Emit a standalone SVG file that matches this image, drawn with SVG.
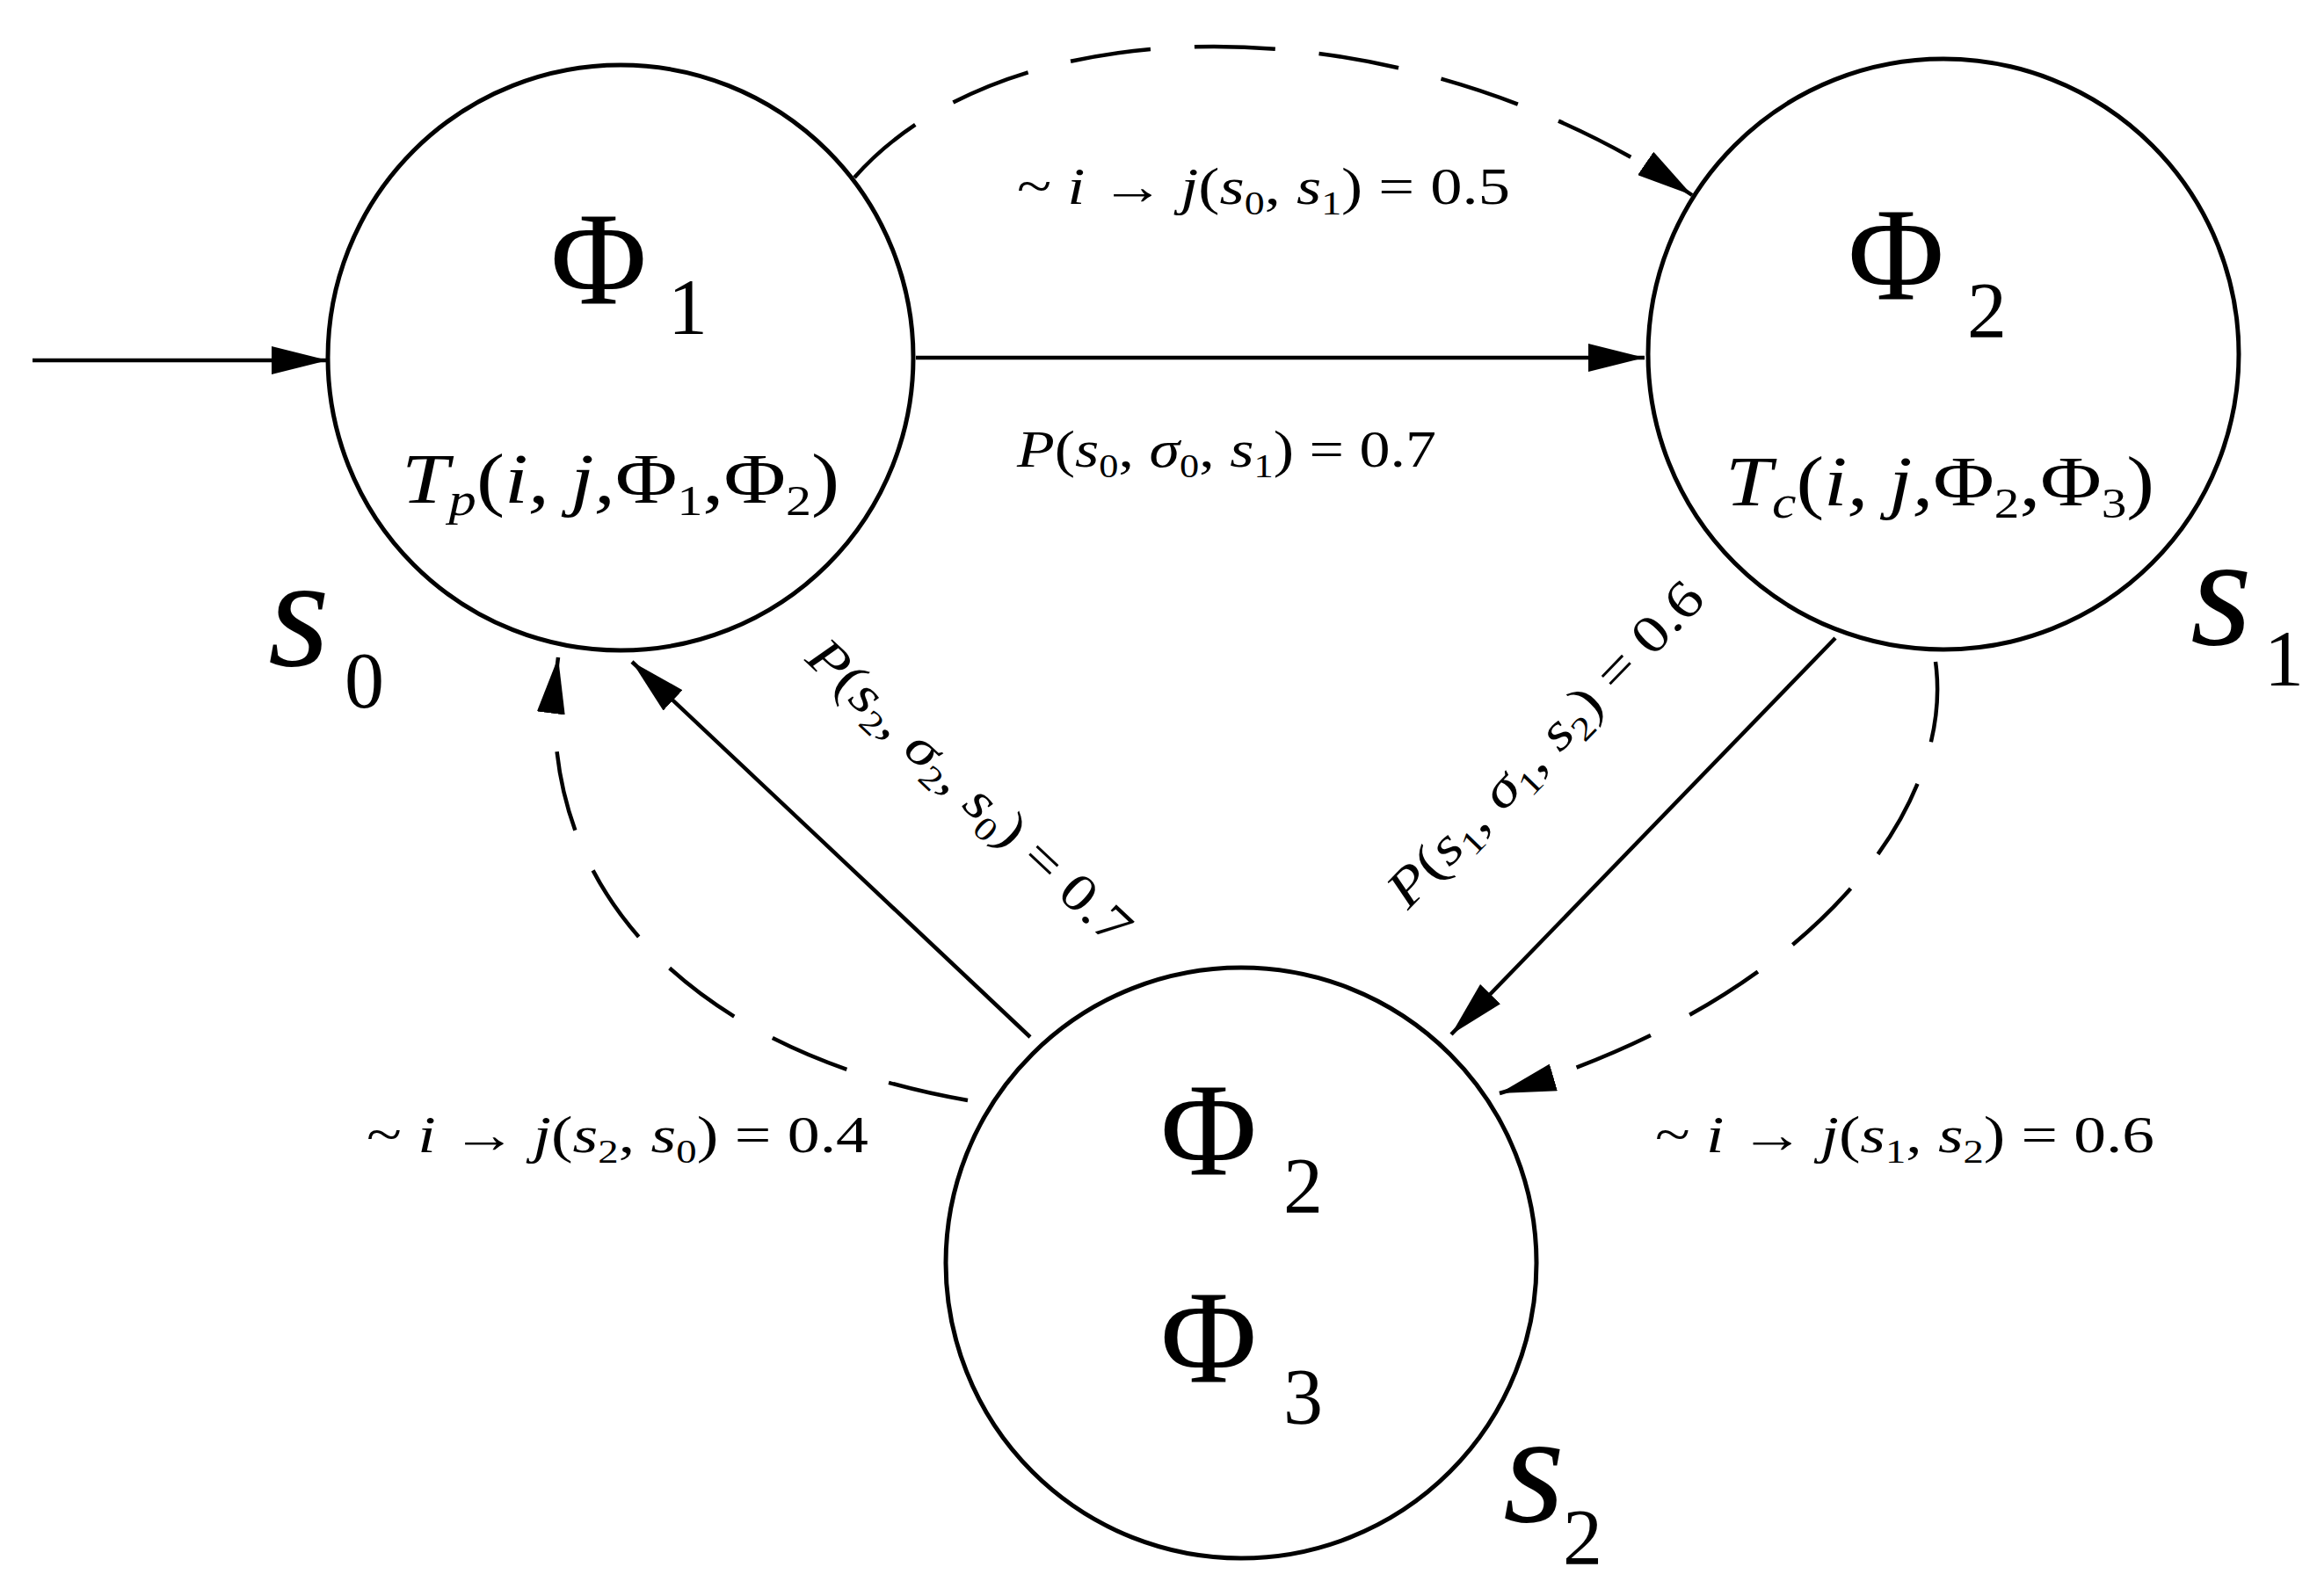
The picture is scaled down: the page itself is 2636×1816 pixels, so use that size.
<svg xmlns="http://www.w3.org/2000/svg" width="2636" height="1816" viewBox="0 0 2636 1816" font-family="'Liberation Serif', 'Times New Roman', serif">
<style>
.c{fill:none;stroke:#000;stroke-width:5}
.e{fill:none;stroke:#000;stroke-width:4.5}
.d{fill:none;stroke:#000;stroke-width:4.5;stroke-dasharray:92 50}
text{font-family:'Liberation Serif','Times New Roman',serif;fill:#000}
.it{font-style:italic}
.up{font-style:normal}
.big{font-size:150px}
.mid{font-size:90px}
.lb{font-size:60px;font-style:italic}
.sb{font-size:38px}
.st{font-size:180px;font-style:italic}
</style>
<defs>
<marker id="a" viewBox="0 0 64 32" refX="64" refY="16" markerWidth="64" markerHeight="32" markerUnits="userSpaceOnUse" orient="auto"><path d="M0,0 L64,16 L0,32 Z" fill="#000"/></marker>
</defs>
<g id="edges">
<line class="e" x1="37" y1="410" x2="373" y2="410" marker-end="url(#a)"/>
<line class="e" x1="1042" y1="407" x2="1871" y2="407" marker-end="url(#a)"/>
<line class="e" x1="2088" y1="726" x2="1651" y2="1177" marker-end="url(#a)"/>
<line class="e" x1="1172" y1="1180" x2="719" y2="753" marker-end="url(#a)"/>
<path class="d" d="M972,202 C1150,0 1600,0 1925,222" marker-end="url(#a)"/>
<path class="d" d="M2202,753 C2225,920 2060,1140 1706,1244" marker-end="url(#a)"/>
<path class="d" d="M1101,1252 C800,1200 600,1020 635,748" marker-end="url(#a)"/>
</g>
<g id="s0">
<circle class="c" cx="706" cy="407" r="333"/>
<text x="681" y="345" class="big" text-anchor="middle">Φ</text>
<text x="760" y="380" class="mid">1</text>
<text x="457" y="572" font-size="80" class="it" textLength="498" lengthAdjust="spacingAndGlyphs">T<tspan dy="14" font-size="52">p</tspan><tspan dy="-14" class="up">(</tspan>i, j,<tspan class="up">Φ</tspan><tspan dy="14" font-size="48" class="up">1</tspan><tspan dy="-14" class="up">,Φ</tspan><tspan dy="14" font-size="48" class="up">2</tspan><tspan dy="-14" class="up">)</tspan></text>
<text x="305" y="757" class="st">s</text>
<text x="392" y="805" class="mid">0</text>
</g>
<g id="s1">
<circle class="c" cx="2211" cy="403" r="336"/>
<text x="2157" y="340" class="big" text-anchor="middle">Φ</text>
<text x="2238" y="384" class="mid">2</text>
<text x="1963" y="575" font-size="80" class="it" textLength="488" lengthAdjust="spacingAndGlyphs">T<tspan dy="14" font-size="52">c</tspan><tspan dy="-14" class="up">(</tspan>i, j,<tspan class="up">Φ</tspan><tspan dy="14" font-size="48" class="up">2</tspan><tspan dy="-14" class="up">,Φ</tspan><tspan dy="14" font-size="48" class="up">3</tspan><tspan dy="-14" class="up">)</tspan></text>
<text x="2492" y="733" class="st">s</text>
<text x="2576" y="780" class="mid">1</text>
</g>
<g id="s2">
<circle class="c" cx="1412" cy="1437" r="336"/>
<text x="1375" y="1336" class="big" text-anchor="middle">Φ</text>
<text x="1460" y="1380" class="mid">2</text>
<text x="1375" y="1572" class="big" text-anchor="middle">Φ</text>
<text x="1460" y="1620" class="mid">3</text>
<text x="1710" y="1731" class="st">s</text>
<text x="1778" y="1780" class="mid">2</text>
</g>
<g id="labels">
<text x="1157" y="232" class="lb" textLength="561" lengthAdjust="spacingAndGlyphs"><tspan class="up">~ </tspan>i <tspan class="up">→ </tspan>j<tspan class="up">(</tspan>s<tspan dy="12" class="sb up">0</tspan><tspan dy="-12" class="up">, </tspan>s<tspan dy="12" class="sb up">1</tspan><tspan dy="-12" class="up">) = 0.5</tspan></text>
<text x="1157" y="531" class="lb" textLength="477" lengthAdjust="spacingAndGlyphs">P<tspan class="up">(</tspan>s<tspan dy="12" class="sb up">0</tspan><tspan dy="-12" class="up">, </tspan>σ<tspan dy="12" class="sb up">0</tspan><tspan dy="-12" class="up">, </tspan>s<tspan dy="12" class="sb up">1</tspan><tspan dy="-12" class="up">) = 0.7</tspan></text>
<text x="417" y="1311" class="lb" textLength="571" lengthAdjust="spacingAndGlyphs"><tspan class="up">~ </tspan>i <tspan class="up">→ </tspan>j<tspan class="up">(</tspan>s<tspan dy="12" class="sb up">2</tspan><tspan dy="-12" class="up">, </tspan>s<tspan dy="12" class="sb up">0</tspan><tspan dy="-12" class="up">) = 0.4</tspan></text>
<text x="1883" y="1311" class="lb" textLength="568" lengthAdjust="spacingAndGlyphs"><tspan class="up">~ </tspan>i <tspan class="up">→ </tspan>j<tspan class="up">(</tspan>s<tspan dy="12" class="sb up">1</tspan><tspan dy="-12" class="up">, </tspan>s<tspan dy="12" class="sb up">2</tspan><tspan dy="-12" class="up">) = 0.6</tspan></text>
<text transform="translate(1090,915) rotate(43)" x="-240" y="0" class="lb" textLength="480" lengthAdjust="spacingAndGlyphs">P<tspan class="up">(</tspan>s<tspan dy="12" class="sb up">2</tspan><tspan dy="-12" class="up">, </tspan>σ<tspan dy="12" class="sb up">2</tspan><tspan dy="-12" class="up">, </tspan>s<tspan dy="12" class="sb up">0</tspan><tspan dy="-12" class="up">) = 0.7</tspan></text>
<text transform="translate(1772,860) rotate(-46)" x="-245" y="0" class="lb" textLength="490" lengthAdjust="spacingAndGlyphs">P<tspan class="up">(</tspan>s<tspan dy="12" class="sb up">1</tspan><tspan dy="-12" class="up">, </tspan>σ<tspan dy="12" class="sb up">1</tspan><tspan dy="-12" class="up">, </tspan>s<tspan dy="12" class="sb up">2</tspan><tspan dy="-12" class="up">) = 0.6</tspan></text>
</g>
</svg>
